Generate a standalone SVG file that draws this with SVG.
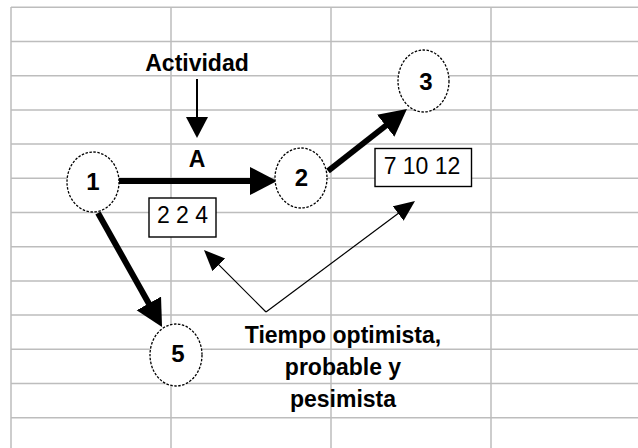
<svg xmlns="http://www.w3.org/2000/svg" width="638" height="448" viewBox="0 0 638 448">
<style>
.grid line{stroke:#bdbdbd;stroke-width:1.5}
.node ellipse{fill:#fff;stroke:#000;stroke-width:1.3;stroke-dasharray:2.5 1.5}
.num{font-family:"Liberation Sans",Arial,sans-serif;font-weight:bold;font-size:24px;text-anchor:middle;fill:#000}
.lbl{font-family:"Liberation Sans",Arial,sans-serif;font-weight:bold;font-size:23px;text-anchor:middle;fill:#000}
.box rect{fill:#fff;stroke:#000;stroke-width:1.4}
.box text{font-family:"Liberation Sans",Arial,sans-serif;font-size:23px;text-anchor:middle;fill:#000}
.thick{stroke:#000;stroke-width:6;fill:none}
.thin{stroke:#000;stroke-width:1.2;fill:none}
</style>
<defs>
<marker id="headL" markerUnits="userSpaceOnUse" markerWidth="30" markerHeight="30" refX="2" refY="14" orient="auto"><path d="M0,0 L27,14 L0,28 z" fill="#000"/></marker>
<marker id="headM" markerUnits="userSpaceOnUse" markerWidth="24" markerHeight="24" refX="2" refY="11" orient="auto"><path d="M0,0 L21,11 L0,22 z" fill="#000"/></marker>
<marker id="headS" markerUnits="userSpaceOnUse" markerWidth="24" markerHeight="24" refX="2" refY="9" orient="auto"><path d="M0,0 L21,9 L0,18 z" fill="#000"/></marker>
</defs>
<rect width="638" height="448" fill="#fff"/>
<g class="grid">
<line x1="11" y1="7.3" x2="638" y2="7.3"/>
<line x1="11" y1="41.5" x2="638" y2="41.5"/>
<line x1="11" y1="75.7" x2="638" y2="75.7"/>
<line x1="11" y1="109.9" x2="638" y2="109.9"/>
<line x1="11" y1="144.1" x2="638" y2="144.1"/>
<line x1="11" y1="178.3" x2="638" y2="178.3"/>
<line x1="11" y1="212.5" x2="638" y2="212.5"/>
<line x1="11" y1="246.7" x2="638" y2="246.7"/>
<line x1="11" y1="280.9" x2="638" y2="280.9"/>
<line x1="11" y1="315.1" x2="638" y2="315.1"/>
<line x1="11" y1="349.3" x2="638" y2="349.3"/>
<line x1="11" y1="383.5" x2="638" y2="383.5"/>
<line x1="11" y1="417.7" x2="638" y2="417.7"/>
<line x1="11" y1="7" x2="11" y2="448"/>
<line x1="171" y1="7" x2="171" y2="448"/>
<line x1="331" y1="7" x2="331" y2="448"/>
<line x1="491" y1="7" x2="491" y2="448"/>
</g>
<g id="connectors">
<line x1="197" y1="79" x2="197" y2="119" stroke="#000" stroke-width="2" marker-end="url(#headM)"/>
<line class="thick" x1="119" y1="181" x2="252" y2="181" marker-end="url(#headL)"/>
<line class="thick" x1="328" y1="171" x2="387.3" y2="124.5" stroke-width="5" marker-end="url(#headL)"/>
<line class="thick" x1="98" y1="213" x2="149.8" y2="305.2" marker-end="url(#headL)"/>
<line class="thin" x1="266" y1="312" x2="217.4" y2="263.4" marker-end="url(#headS)"/>
<line class="thin" x1="266" y1="312" x2="399.8" y2="212.3" marker-end="url(#headS)"/>
</g>
<g id="node1" class="node"><ellipse cx="93" cy="182" rx="26" ry="30"/><text class="num" x="93" y="189.5">1</text></g>
<g id="node2" class="node"><ellipse cx="301" cy="178" rx="26" ry="30"/><text class="num" x="301.5" y="185.5">2</text></g>
<g id="node3" class="node"><ellipse cx="423.5" cy="81" rx="25.5" ry="31"/><text class="num" x="426" y="89.5">3</text></g>
<g id="node5" class="node"><ellipse cx="176" cy="355" rx="26" ry="31"/><text class="num" x="178" y="361.5">5</text></g>
<g id="box224" class="box"><rect x="149" y="198" width="67" height="39"/><text x="182.5" y="223">2 2 4</text></g>
<g id="box71012" class="box"><rect x="375" y="148.5" width="96.5" height="38"/><text x="422" y="173.5">7 10 12</text></g>
<g id="labels">
<text class="lbl" x="197" y="71">Actividad</text>
<text class="lbl" x="197" y="167" font-size="21">A</text>
<text class="lbl" x="343" y="343">Tiempo optimista,</text>
<text class="lbl" x="343" y="375">probable y</text>
<text class="lbl" x="343" y="407">pesimista</text>
</g>
</svg>
